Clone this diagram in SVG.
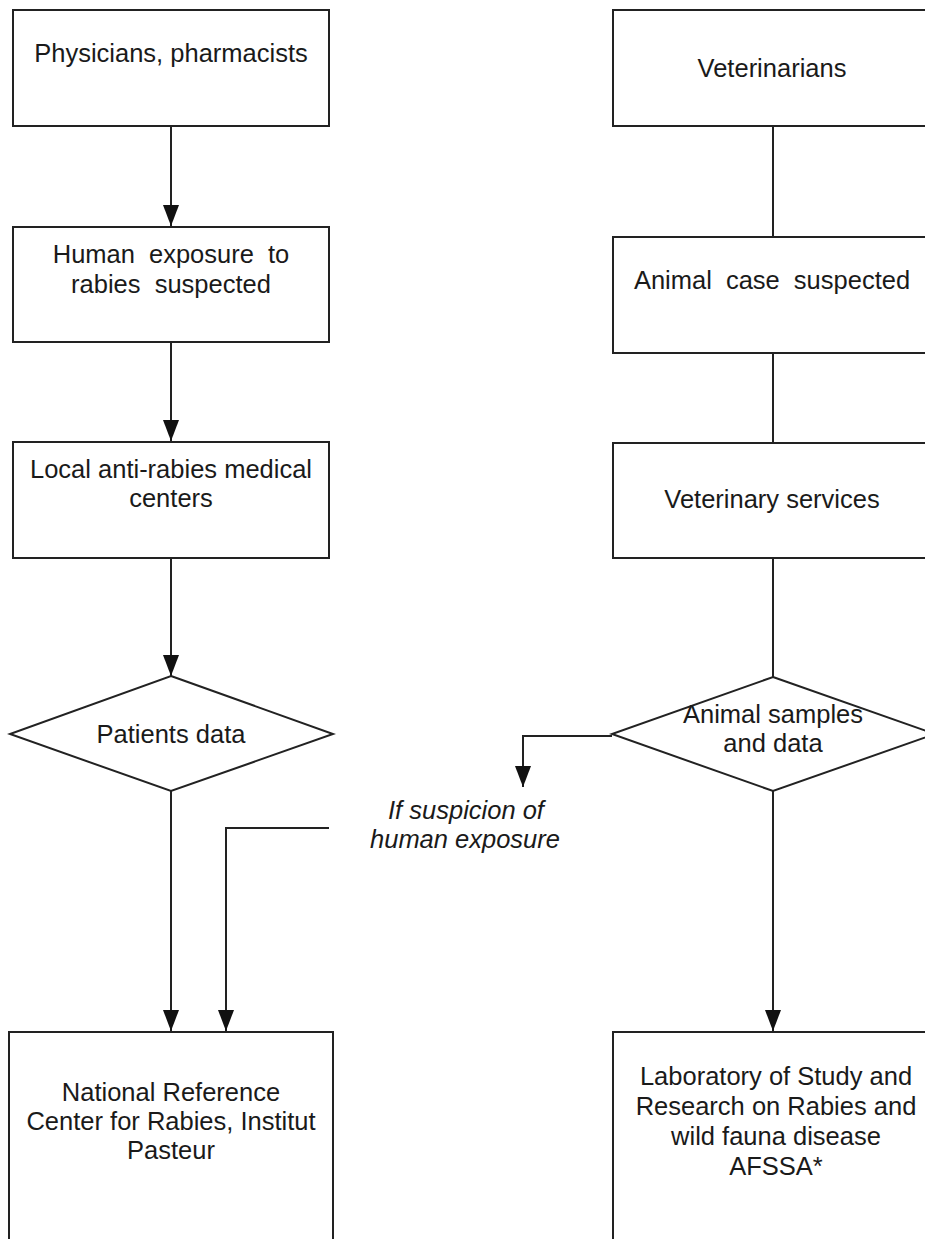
<svg xmlns="http://www.w3.org/2000/svg" width="925" height="1239" viewBox="0 0 925 1239">
<defs>
<style>
.box{fill:#fff;stroke:#222;stroke-width:2}
.ln{fill:none;stroke:#222;stroke-width:2}
.t{font-family:"Liberation Sans",Arial,Helvetica,sans-serif;font-size:25.5px;fill:#1a1a1a;text-anchor:middle}
.it{font-style:italic}
.ws{word-spacing:7px}
</style>
<marker id="ah" markerUnits="userSpaceOnUse" markerWidth="24" markerHeight="18" viewBox="0 0 24 18" refX="22" refY="9" orient="auto">
<path d="M1,1 L22,9 L1,17 Z" fill="#111"/>
</marker>
</defs>
<rect width="925" height="1239" fill="#fff"/>

<g id="connectors">
<line class="ln" x1="171" y1="126" x2="171" y2="226" marker-end="url(#ah)"/>
<line class="ln" x1="171" y1="342" x2="171" y2="441" marker-end="url(#ah)"/>
<line class="ln" x1="171" y1="558" x2="171" y2="676" marker-end="url(#ah)"/>
<line class="ln" x1="171" y1="791" x2="171" y2="1031" marker-end="url(#ah)"/>
<polyline class="ln" points="329,828 226,828 226,1031" marker-end="url(#ah)"/>
<line class="ln" x1="773" y1="126" x2="773" y2="237"/>
<line class="ln" x1="773" y1="353" x2="773" y2="443"/>
<line class="ln" x1="773" y1="558" x2="773" y2="677"/>
<line class="ln" x1="773" y1="791" x2="773" y2="1031" marker-end="url(#ah)"/>
<polyline class="ln" points="612,736 523,736 523,787" marker-end="url(#ah)"/>
</g>

<g id="n-physicians">
<rect class="box" x="13" y="10" width="316" height="116"/>
<text class="t" x="171" y="62">Physicians, pharmacists</text>
</g>
<g id="n-human-exposure">
<rect class="box" x="13" y="227" width="316" height="115"/>
<text class="t ws" x="171" y="263">Human exposure to</text>
<text class="t ws" x="171" y="293">rabies suspected</text>
</g>
<g id="n-local-centers">
<rect class="box" x="13" y="442" width="316" height="116"/>
<text class="t" x="171" y="478">Local anti-rabies medical</text>
<text class="t" x="171" y="507">centers</text>
</g>
<g id="n-patients-data">
<polygon class="box" points="171,676 333,734 171,791 10,734"/>
<text class="t" x="171" y="743">Patients data</text>
</g>
<g id="n-nrc">
<rect class="box" x="9" y="1032" width="324" height="230"/>
<text class="t" x="171" y="1101">National Reference</text>
<text class="t" x="171" y="1130">Center for Rabies, Institut</text>
<text class="t" x="171" y="1159">Pasteur</text>
</g>

<g id="n-veterinarians">
<rect class="box" x="613" y="10" width="320" height="116"/>
<text class="t" x="772" y="77">Veterinarians</text>
</g>
<g id="n-animal-case">
<rect class="box" x="613" y="237" width="320" height="116"/>
<text class="t ws" x="772" y="289">Animal case suspected</text>
</g>
<g id="n-vet-services">
<rect class="box" x="613" y="443" width="320" height="115"/>
<text class="t" x="772" y="508">Veterinary services</text>
</g>
<g id="n-animal-samples">
<polygon class="box" points="773,677 935,734 773,791 612,734"/>
<text class="t" x="773" y="723">Animal samples</text>
<text class="t" x="773" y="752">and data</text>
</g>
<g id="n-lab">
<rect class="box" x="613" y="1032" width="326" height="230"/>
<text class="t" x="776" y="1085">Laboratory of Study and</text>
<text class="t" x="776" y="1115">Research on Rabies and</text>
<text class="t" x="776" y="1145">wild fauna disease</text>
<text class="t" x="776" y="1175">AFSSA*</text>
</g>

<g id="label-suspicion">
<text class="t it" x="466" y="819">If suspicion of</text>
<text class="t it" x="465" y="848">human exposure</text>
</g>
</svg>
